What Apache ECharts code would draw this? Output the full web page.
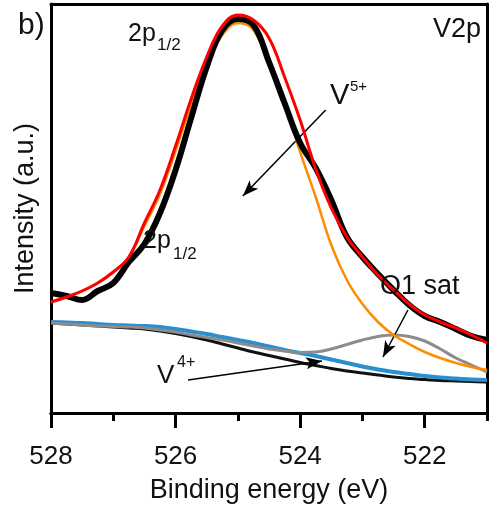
<!DOCTYPE html>
<html>
<head>
<meta charset="utf-8">
<script src="https://cdn.jsdelivr.net/npm/echarts@6/dist/echarts.min.js"></script>
<style>
  html, body { margin: 0; padding: 0; background: #fff; }
  #chart { width: 490px; height: 519px; }
</style>
</head>
<body>
<div id="chart"></div>
<script>
// binding energy (eV), 0.25 eV steps
const energy = [528, 527.75, 527.5, 527.25, 527, 526.75, 526.5, 526.25, 526, 525.75, 525.5, 525.25, 525,
  524.75, 524.5, 524.25, 524, 523.75, 523.5, 523.25, 523, 522.75, 522.5, 522.25, 522, 521.75, 521.5, 521.25, 521];
// intensity (a.u.)
const measured = [120, 117, 113, 122, 130, 151, 169, 200, 243, 295, 346, 383, 394,
  388, 351, 310, 270, 245, 213, 176, 156, 139, 123, 108, 97, 91, 84, 77, 73];
const envelope = [111, 116, 122, 130, 141, 156, 190, 223, 267, 314, 356, 387, 398,
  393, 375, 336, 293, 244, 205, 176, 156, 138, 123, 109, 98, 91, 85, 78, 70];
const v5 = [111, 116, 122, 130, 141, 156, 187, 219, 262, 308, 349, 378, 390,
  383, 348, 310, 261, 216, 168, 133, 109, 91, 78, 69, 61, 55, 50, 46, 43];
const v4 = [91, 90.5, 90, 89, 88, 87.5, 87, 86, 84, 81.5, 79, 76, 73,
  70, 66.5, 63, 60, 57, 53.5, 50, 46.5, 43.5, 41, 39, 37, 35.5, 34.5, 33.5, 33];
const o1sat = [90, 89, 88, 87, 86.5, 86, 85, 83, 81, 78, 75.5, 73, 70,
  67, 64, 62, 60.5, 61, 64, 68.5, 73, 76.5, 78, 76.5, 72, 64, 55, 48, 41];
const background = [90, 89, 88, 87, 86, 85, 84, 82, 79.5, 76.5, 73, 69, 65,
  61, 57.5, 54, 50.5, 47.5, 44.5, 42, 40, 38, 36, 34.5, 33.5, 32.5, 32, 31.5, 31];
const majorTicks = [528, 526, 524, 522];
// annotation arrows [from, to] in data coords
const arrows = [
  [[523.59, 303], [524.92, 217]],
  [[522.27, 103], [522.67, 56]],
  [[525.80, 33], [523.65, 52]]
];

const font = "'Liberation Sans', Arial, sans-serif";
const pair = (ys) => energy.map((e, i) => [e, ys[i]]);

const chart = echarts.init(document.getElementById("chart"));

function line(name, ys, color, width, z) {
  return {
    name: name,
    type: "line",
    data: pair(ys),
    showSymbol: false,
    smooth: 0.4,
    z: z,
    lineStyle: { color: color, width: width },
    animation: false,
  };
}

function txt(text, left, y, size) {
  return {
    type: "text",
    left: left,
    top: y - size / 2,
    style: { text: text, font: size + "px " + font, fill: "#111" },
    z: 100,
  };
}

const series = [
  line("background", background, "#111111", 3, 2),
  line("V4+", v4, "#2b8fcf", 4, 3),
  line("O1 sat", o1sat, "#8c8c8c", 3, 4),
  line("V5+", v5, "#ff8c00", 2.5, 5),
  line("measured", measured, "#000000", 6, 6),
  line("envelope", envelope, "#ff0000", 3, 7),
];
series[0].markLine = {
  silent: true,
  symbol: ["none", "arrow"],
  symbolSize: [9, 16],
  label: { show: false },
  lineStyle: { color: "#000", width: 1.5, type: "solid" },
  data: arrows.map((a) => [{ coord: a[0] }, { coord: a[1] }]),
  animation: false,
};

chart.setOption({
  backgroundColor: "#fff",
  animation: false,
  grid: {
    left: 51, right: 3, top: 4, bottom: 106,
    show: true, borderColor: "#888", borderWidth: 1,
  },
  xAxis: [
    {
      type: "value", min: 521, max: 528, interval: 1, inverse: true,
      position: "bottom", offset: 7,
      axisLine: { lineStyle: { color: "#000", width: 3 } },
      axisTick: { length: 8, lineStyle: { color: "#000", width: 3 } },
      axisLabel: { show: false },
      splitLine: { show: false },
    },
    {
      type: "value", min: 521, max: 528, inverse: true,
      position: "bottom", offset: 7,
      axisLine: { lineStyle: { color: "#000", width: 3 } },
      axisTick: { length: 15, customValues: majorTicks, lineStyle: { color: "#000", width: 3 } },
      axisLabel: { customValues: majorTicks, margin: 24, fontSize: 26, fontFamily: font, color: "#111" },
      splitLine: { show: false },
      name: "Binding energy (eV)",
      nameLocation: "middle",
      nameGap: 57,
      nameTextStyle: { fontSize: 27, fontFamily: font, color: "#111" },
    },
    {
      type: "value", min: 521, max: 528, inverse: true, position: "top",
      axisLine: { lineStyle: { color: "#000", width: 3 } },
      axisTick: { show: false }, axisLabel: { show: false }, splitLine: { show: false },
    },
  ],
  yAxis: [
    {
      type: "value", min: 0, max: 409, position: "left",
      axisLine: { show: true, lineStyle: { color: "#000", width: 3 } },
      axisTick: { show: false }, axisLabel: { show: false }, splitLine: { show: false },
      name: "Intensity (a.u.)",
      nameLocation: "middle",
      nameGap: 12,
      nameTextStyle: { fontSize: 27, fontFamily: font, color: "#111" },
    },
    {
      type: "value", min: 0, max: 409, position: "right",
      axisLine: { show: true, lineStyle: { color: "#000", width: 3 } },
      axisTick: { show: false }, axisLabel: { show: false }, splitLine: { show: false },
    },
  ],
  graphic: [
    txt("b)", 18, 26, 30),
    txt("2p", 128, 34, 25),
    txt("1/2", 157, 45, 17),
    txt("V2p", 433, 30, 27),
    txt("V", 330, 96, 29),
    txt("5+", 350, 87, 15),
    txt("2p", 143, 241, 25),
    txt("1/2", 173, 254, 17),
    txt("O1 sat", 380, 287, 27),
    txt("V", 157, 376, 26),
    txt("4+", 177, 363, 16),
  ],
  series: series,
});
</script>
</body>
</html>
